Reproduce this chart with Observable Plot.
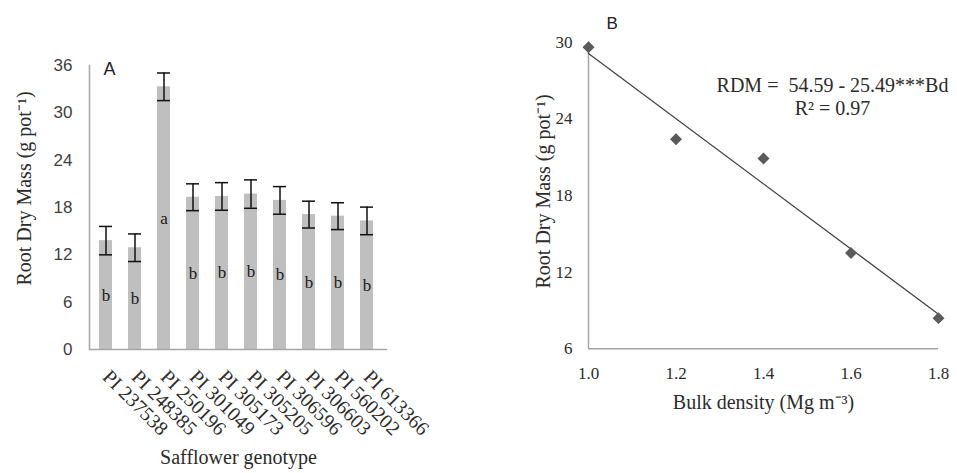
<!DOCTYPE html>
<html><head><meta charset="utf-8">
<script src="https://cdn.jsdelivr.net/npm/d3@7"></script>
<script src="https://cdn.jsdelivr.net/npm/@observablehq/plot@0.6"></script>
<style>
html,body{margin:0;padding:0;background:#fff;}
#wrap{position:relative;width:957px;height:473px;display:flex;overflow:hidden;}
#wrap svg{display:block;flex:none;}
</style></head><body><div id="wrap"></div>
<script>
// Panel A: root dry mass per safflower genotype
const genotypes = ["PI 237538","PI 248385","PI 250196","PI 301049","PI 305173","PI 305205","PI 306596","PI 306603","PI 560202","PI 613366"];
const rootDryMass = [13.8, 12.9, 33.3, 19.3, 19.4, 19.7, 18.9, 17.1, 16.9, 16.3];
const stdErr = [1.8, 1.75, 1.75, 1.7, 1.75, 1.8, 1.75, 1.7, 1.7, 1.75];
const groupLetters = ["b","b","a","b","b","b","b","b","b","b"];
const yTicksA = [0, 6, 12, 18, 24, 30, 36];

// Panel B: root dry mass vs bulk density
const bulkDensity = [1.0, 1.2, 1.4, 1.6, 1.8];
const rdmByDensity = [29.6, 22.4, 20.9, 13.5, 8.4];
const yTicksB = [6, 12, 18, 24, 30];
const fitIntercept = 54.59, fitSlope = 25.49, fitR2 = 0.97;

const tableA = genotypes.map((g, i) => ({g, v: rootDryMass[i], e: stdErr[i], l: groupLetters[i]}));
const tableB = bulkDensity.map((x, i) => ({x, y: rdmByDensity[i]}));
const fitLine = d3.extent(bulkDensity).map(x => ({x, y: fitIntercept - fitSlope * x}));

const serif = "'Liberation Serif', 'Times New Roman', serif";
const sans = "'Liberation Sans', Arial, sans-serif";
const axisGray = "#a6a6a6";
const ink = "#2b2b2b";

const plotA = Plot.plot({
  width: 478, height: 473,
  marginLeft: 89, marginRight: 91, marginTop: 65, marginBottom: 124,
  style: {fontFamily: serif, background: "white", overflow: "visible"},
  x: {domain: genotypes, paddingInner: 0.56, paddingOuter: 0.3, align: 0.4},
  y: {domain: [0, 36]},
  marks: [
    Plot.barY(tableA, {x: "g", y: "v", fill: "#bfbfbf"}),
    Plot.ruleX(tableA, {x: "g", y1: d => d.v - d.e, y2: d => d.v + d.e, stroke: "#111", strokeWidth: 1.5}),
    Plot.tickY(tableA, {x: "g", y: d => d.v + d.e, stroke: "#111", strokeWidth: 1.5}),
    Plot.tickY(tableA, {x: "g", y: d => d.v - d.e, stroke: "#111", strokeWidth: 1.5}),
    Plot.text(tableA, {x: "g", y: d => d.v / 2, text: "l", fontSize: 17, fill: "#1a1a1a", fontFamily: serif}),
    Plot.ruleY([0], {stroke: axisGray, strokeWidth: 1.5}),
    Plot.frame({anchor: "left", stroke: axisGray, strokeWidth: 1.5}),
    Plot.axisY({ticks: yTicksA, tickSize: 0, tickPadding: 17, fontSize: 17, fontFamily: sans, fill: "#404040", label: null}),
    Plot.axisX({tickRotate: 45, tickSize: 0, tickPadding: 24, fontSize: 20, fontFamily: serif, fill: ink, label: null}),
    Plot.text(["Root Dry Mass (g pot⁻¹)"], {text: d => d, frameAnchor: "left", rotate: -90, dx: -65, dy: -19, fontSize: 20, fill: ink, textAnchor: "middle", lineAnchor: "middle"}),
    Plot.text(["Safflower genotype"], {text: d => d, frameAnchor: "bottom", dy: 108, fontSize: 20, fill: ink, textAnchor: "middle", lineAnchor: "middle"}),
    Plot.text(["A"], {text: d => d, frameAnchor: "top-left", dx: 14, dy: -3, fontSize: 18, fontFamily: sans, fill: "#222", textAnchor: "start", lineAnchor: "top"})
  ]
});

const plotB = Plot.plot({
  width: 479, height: 473,
  marginLeft: 110, marginRight: 19, marginTop: 41.6, marginBottom: 124.7,
  style: {fontFamily: serif, background: "white", overflow: "visible"},
  x: {domain: d3.extent(bulkDensity)},
  y: {domain: d3.extent(yTicksB)},
  marks: [
    Plot.ruleY([yTicksB[0]], {stroke: axisGray, strokeWidth: 1.5}),
    Plot.ruleX([bulkDensity[0]], {stroke: axisGray, strokeWidth: 1.5}),
    Plot.line(fitLine, {x: "x", y: "y", stroke: "#454545", strokeWidth: 1.3}),
    Plot.dot(tableB, {x: "x", y: "y", symbol: "diamond2", r: 5.4, fill: "#5a5a5a", stroke: "none"}),
    Plot.axisY({ticks: yTicksB, tickSize: 0, tickPadding: 16, fontSize: 17, fontFamily: serif, fill: ink, label: null}),
    Plot.axisX({ticks: bulkDensity, tickFormat: d3.format(".1f"), tickSize: 0, tickPadding: 18, fontSize: 17, fontFamily: serif, fill: ink, label: null}),
    Plot.text(["Root Dry Mass (g pot⁻¹)"], {text: d => d, frameAnchor: "left", rotate: -90, dx: -45, dy: -4, fontSize: 20, fill: ink, textAnchor: "middle", lineAnchor: "middle"}),
    Plot.text(["Bulk density (Mg m⁻³)"], {text: d => d, frameAnchor: "bottom", dy: 54, fontSize: 20, fill: ink, textAnchor: "middle", lineAnchor: "middle"}),
    Plot.text([`RDM =  ${fitIntercept} - ${fitSlope}***Bd\nR² = ${fitR2}`], {text: d => d, frameAnchor: "top-left", dx: 244, dy: 34, fontSize: 20, lineHeight: 1.15, fill: ink, textAnchor: "middle", lineAnchor: "top"}),
    Plot.text(["B"], {text: d => d, frameAnchor: "top-left", dx: 18, dy: -25, fontSize: 17, fontFamily: sans, fill: "#222", textAnchor: "start", lineAnchor: "top"})
  ]
});

document.getElementById("wrap").append(plotA, plotB);
</script></body></html>
